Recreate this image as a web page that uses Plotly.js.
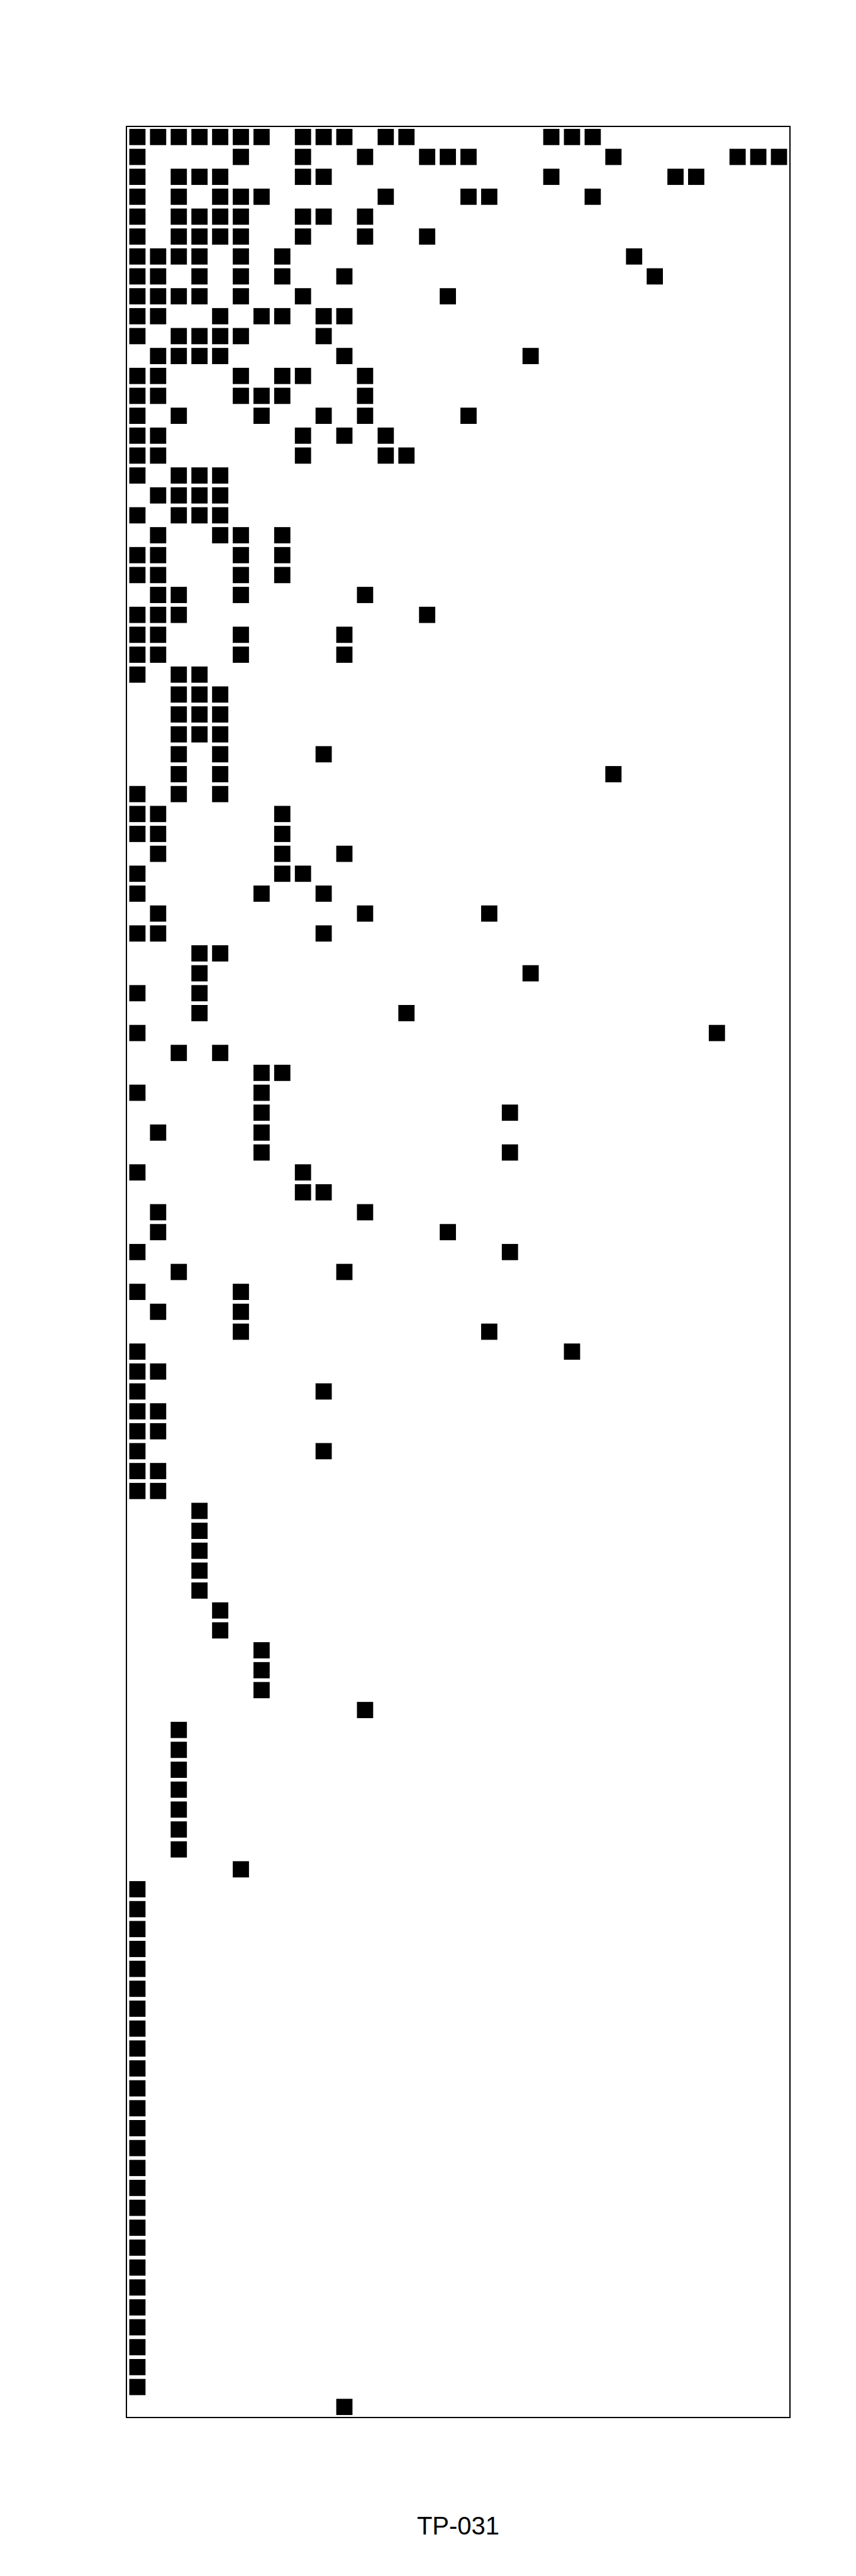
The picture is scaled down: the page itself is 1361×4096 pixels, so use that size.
<!DOCTYPE html>
<html>
<head>
<meta charset="utf-8">
<script src="https://cdn.plot.ly/plotly-3.0.1.min.js"></script>
<style>html,body{margin:0;padding:0;background:#fff;}#chart{width:1361px;height:4096px;}</style>
</head>
<body>
<div id="chart"></div>
<script>
// Title of the chart
const chartTitle = 'TP-031';
// Number of columns (x positions 0..31) and rows (y positions 0..114)
const columnCount = 32;
const rowCount = 115;
// For each row (top to bottom), the column indices that hold a filled square
const rowColumns = [
  [0,1,2,3,4,5,6,8,9,10,12,13,20,21,22],
  [0,5,8,11,14,15,16,23,29,30,31],
  [0,2,3,4,8,9,20,26,27],
  [0,2,4,5,6,12,16,17,22],
  [0,2,3,4,5,8,9,11],
  [0,2,3,4,5,8,11,14],
  [0,1,2,3,5,7,24],
  [0,1,3,5,7,10,25],
  [0,1,2,3,5,8,15],
  [0,1,4,6,7,9,10],
  [0,2,3,4,5,9],
  [1,2,3,4,10,19],
  [0,1,5,7,8,11],
  [0,1,5,6,7,11],
  [0,2,6,9,11,16],
  [0,1,8,10,12],
  [0,1,8,12,13],
  [0,2,3,4],
  [1,2,3,4],
  [0,2,3,4],
  [1,4,5,7],
  [0,1,5,7],
  [0,1,5,7],
  [1,2,5,11],
  [0,1,2,14],
  [0,1,5,10],
  [0,1,5,10],
  [0,2,3],
  [2,3,4],
  [2,3,4],
  [2,3,4],
  [2,4,9],
  [2,4,23],
  [0,2,4],
  [0,1,7],
  [0,1,7],
  [1,7,10],
  [0,7,8],
  [0,6,9],
  [1,11,17],
  [0,1,9],
  [3,4],
  [3,19],
  [0,3],
  [3,13],
  [0,28],
  [2,4],
  [6,7],
  [0,6],
  [6,18],
  [1,6],
  [6,18],
  [0,8],
  [8,9],
  [1,11],
  [1,15],
  [0,18],
  [2,10],
  [0,5],
  [1,5],
  [5,17],
  [0,21],
  [0,1],
  [0,9],
  [0,1],
  [0,1],
  [0,9],
  [0,1],
  [0,1],
  [3],
  [3],
  [3],
  [3],
  [3],
  [4],
  [4],
  [6],
  [6],
  [6],
  [11],
  [2],
  [2],
  [2],
  [2],
  [2],
  [2],
  [2],
  [5],
  [0],
  [0],
  [0],
  [0],
  [0],
  [0],
  [0],
  [0],
  [0],
  [0],
  [0],
  [0],
  [0],
  [0],
  [0],
  [0],
  [0],
  [0],
  [0],
  [0],
  [0],
  [0],
  [0],
  [0],
  [0],
  [0],
  [10]
];

const xs = [], ys = [];
rowColumns.forEach(function (cols, r) {
  cols.forEach(function (c) { xs.push(c); ys.push(r); });
});

const trace = {
  type: 'scatter',
  mode: 'markers',
  x: xs,
  y: ys,
  marker: { symbol: 'square', size: 25.8, color: '#000000', line: { width: 0 } },
  hoverinfo: 'skip',
  cliponaxis: false
};

const layout = {
  width: 1361,
  height: 4096,
  margin: { l: 202, r: 106, t: 202, b: 253, pad: 0 },
  paper_bgcolor: '#ffffff',
  plot_bgcolor: '#ffffff',
  showlegend: false,
  font: { family: 'Liberation Sans, Arial, sans-serif', color: '#000000' },
  title: {
    text: chartTitle,
    font: { family: 'Liberation Sans, Arial, sans-serif', size: 40, color: '#000000' },
    xref: 'paper', x: 0.5, xanchor: 'center',
    yref: 'container', y: 0.0195, yanchor: 'middle'
  },
  xaxis: {
    range: [-0.5, columnCount - 0.5],
    showgrid: false, zeroline: false, showticklabels: false, ticks: '',
    showline: true, mirror: true, linecolor: '#000000', linewidth: 1.6,
    fixedrange: true
  },
  yaxis: {
    range: [rowCount - 0.5, -0.5],
    showgrid: false, zeroline: false, showticklabels: false, ticks: '',
    showline: true, mirror: true, linecolor: '#000000', linewidth: 1.6,
    fixedrange: true
  }
};

Plotly.newPlot('chart', [trace], layout, { staticPlot: true, displayModeBar: false });
</script>
</body>
</html>
